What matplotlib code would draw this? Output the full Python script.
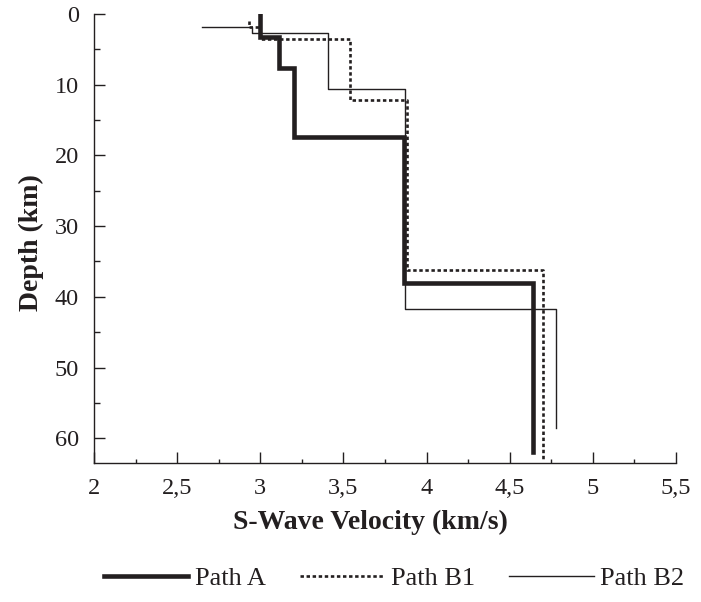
import numpy as np
import matplotlib
matplotlib.use("Agg")
import matplotlib.pyplot as plt

# layer tops (km), velocities (km/s) and the depth where each profile ends
path_a_top = [0.0, 3.3, 7.7, 17.35, 38.1]
path_a_vs = [3.00, 3.11, 3.20, 3.865, 4.64]
path_a_end = 62.0

path_b1_top = [1.0, 1.8, 3.6, 12.1, 36.2]
path_b1_vs = [2.93, 3.00, 3.54, 3.88, 4.70]
path_b1_end = 63.0

path_b2_top = [1.9, 1.9, 2.7, 10.65, 41.7]
path_b2_vs = [2.65, 2.95, 3.405, 3.87, 4.78]
path_b2_end = 58.5

x_ticks = [2, 2.5, 3, 3.5, 4, 4.5, 5, 5.5]
x_ticklabels = ["2", "2,5", "3", "3,5", "4", "4,5", "5", "5,5"]
y_ticks = [0, 10, 20, 30, 40, 50, 60]


def profile(tops, vs, end):
    bottoms = list(tops[1:]) + [end]
    xs, ys = [], []
    for v, t, b in zip(vs, tops, bottoms):
        xs += [v, v]
        ys += [t, b]
    return np.array(xs), np.array(ys)


ink = "#231f20"
plt.rcParams["font.family"] = ["Liberation Serif", "DejaVu Serif"]

fig = plt.figure(figsize=(7.01, 6.02), dpi=100)
ax = fig.add_axes([94/701, 1-463/602, (676-94)/701, (463-14)/602])

x, y = profile(path_a_top, path_a_vs, path_a_end)
ax.plot(x, y, color=ink, lw=3.3, solid_joinstyle="miter", label="Path A")
x, y = profile(path_b1_top, path_b1_vs, path_b1_end)
ax.plot(x, y, color=ink, lw=1.9, ls=(0, (1.3, 1.0)), label="Path B1")
x, y = profile(path_b2_top, path_b2_vs, path_b2_end)
ax.plot(x, y, color=ink, lw=1.0, label="Path B2")

ax.set_xlim(2, 5.5)
ax.set_ylim(63.5, 0)
for s in ["top", "right"]:
    ax.spines[s].set_visible(False)
for s in ["left", "bottom"]:
    ax.spines[s].set_linewidth(1.0)
    ax.spines[s].set_color(ink)

ax.set_xticks(x_ticks)
ax.set_xticklabels(x_ticklabels)
ax.set_xticks(np.arange(2.25, 5.5, 0.5), minor=True)
ax.set_yticks(y_ticks)
ax.set_yticks(np.arange(5, 60, 10), minor=True)
ax.tick_params(axis="both", which="major", direction="in", length=8, width=1.0,
               color=ink, labelsize=17.5, labelcolor=ink)
ax.tick_params(axis="x", which="major", pad=11)
ax.tick_params(axis="y", which="major", pad=11)
ax.tick_params(axis="x", which="minor", direction="in", length=3, width=1.0, color=ink)
ax.tick_params(axis="y", which="minor", direction="in", length=4, width=1.0, color=ink)

fig.text(370/701, 1-522/602, "S-Wave Velocity (km/s)", ha="center", va="center",
         fontsize=20, fontweight="bold", color=ink)
fig.text(31/701, 1-243/602, "Depth (km)", ha="center", va="center", rotation=90,
         fontsize=20, fontweight="bold", color=ink)

fig.legend(loc="center", bbox_to_anchor=(394/701, 1-578/602), ncol=3, frameon=False,
           fontsize=19, handlelength=3.2, handletextpad=0.25, columnspacing=1.3,
           labelcolor=ink)

fig.savefig("out.png", dpi=100)
